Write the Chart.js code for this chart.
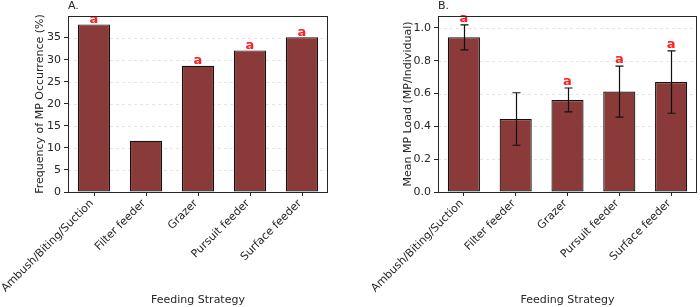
<!DOCTYPE html>
<html><head><meta charset="utf-8">
<script src="https://cdn.jsdelivr.net/npm/chart.js@4/dist/chart.umd.min.js"></script>
<style>
html,body{margin:0;padding:0;background:#fff;}
#wrap{position:relative;width:700px;height:307px;}
.cv{position:absolute;top:0;width:350px;height:307px;}
</style></head>
<body>
<div id="wrap">
<div class="cv" style="left:0"><canvas id="cA" width="350" height="307"></canvas></div>
<div class="cv" style="left:350px"><canvas id="cB" width="350" height="307"></canvas></div>
</div>
<script>
// ---- data ----
const categories = ['Ambush/Biting/Suction','Filter feeder','Grazer','Pursuit feeder','Surface feeder'];
const freqValues = [38.0, 11.6, 28.6, 32.1, 35.1];
const loadValues = [0.943, 0.445, 0.561, 0.612, 0.670];
const loadErrors = [0.076, 0.160, 0.073, 0.156, 0.190];
const freqLetters = ['a', '', 'a', 'a', 'a'];
const loadLetters = ['a', '', 'a', 'a', 'a'];
const freqTicks = [0, 5, 10, 15, 20, 25, 30, 35];
const loadTicks = [0.0, 0.2, 0.4, 0.6, 0.8, 1.0];
const freqMax = 39.9;
const loadMax = 1.073;

const FONT = 'DejaVu Sans';
const BAR = '#8b3a3a';
const DARK = '#262626';

function makeChart(id, opts) {
  const plugin = {
    id: 'deco' + id,
    beforeDatasetsDraw(chart) {
      const {ctx, chartArea: a} = chart;
      const y = chart.scales.y;
      ctx.save();
      ctx.strokeStyle = 'rgba(0,0,0,0.10)';
      ctx.lineWidth = 1;
      ctx.setLineDash([3, 3]);
      opts.ticks.forEach(v => {
        const py = Math.round(y.getPixelForValue(v)) + 0.5;
        ctx.beginPath(); ctx.moveTo(a.left, py); ctx.lineTo(a.right, py); ctx.stroke();
      });
      ctx.restore();
    },
    afterDatasetsDraw(chart) {
      const {ctx, chartArea: a} = chart;
      const x = chart.scales.x, y = chart.scales.y;
      ctx.save();
      // error bars
      if (opts.errors) {
        ctx.strokeStyle = '#111';
        ctx.lineWidth = 1.2;
        opts.values.forEach((v, i) => {
          const px = Math.round(x.getPixelForValue(i)) + 0.5;
          const yt = y.getPixelForValue(v + opts.errors[i]);
          const yb = y.getPixelForValue(v - opts.errors[i]);
          ctx.beginPath();
          ctx.moveTo(px, yt); ctx.lineTo(px, yb);
          ctx.moveTo(px - 4, yt); ctx.lineTo(px + 4, yt);
          ctx.moveTo(px - 4, yb); ctx.lineTo(px + 4, yb);
          ctx.stroke();
        });
      }
      // letters
      ctx.fillStyle = '#ff2020';
      ctx.font = 'bold 13px "' + FONT + '"';
      ctx.textAlign = 'center';
      ctx.textBaseline = 'alphabetic';
      opts.values.forEach((v, i) => {
        if (!opts.letters[i]) return;
        const top = v + (opts.errors ? opts.errors[i] : 0);
        const px = x.getPixelForValue(i);
        ctx.fillText(opts.letters[i], px, y.getPixelForValue(top) - (opts.errors ? 3 : 1.5));
      });
      // frame
      ctx.strokeStyle = DARK;
      ctx.lineWidth = 1;
      ctx.setLineDash([]);
      ctx.strokeRect(Math.round(a.left) + 0.5, Math.round(a.top) + 0.5,
                     Math.round(a.right - a.left) - 1, Math.round(a.bottom - a.top));
      // panel title
      ctx.fillStyle = DARK;
      ctx.font = '11px "' + FONT + '"';
      ctx.textAlign = 'left';
      ctx.textBaseline = 'middle';
      ctx.fillText(opts.panel, a.left, 6.5);
      ctx.restore();
    }
  };
  return new Chart(document.getElementById(id), {
    type: 'bar',
    data: {
      labels: categories,
      datasets: [{
        data: opts.values,
        backgroundColor: BAR,
        borderColor: '#111',
        borderWidth: 1.2,
        borderSkipped: false,
        barPercentage: 0.62,
        categoryPercentage: 1.0
      }]
    },
    options: {
      responsive: false,
      animation: false,
      devicePixelRatio: 1,
      layout: {padding: {left: 0, right: opts.padRight, top: 16, bottom: 0}},
      plugins: {legend: {display: false}, tooltip: {enabled: false}},
      scales: {
        x: {
          grid: {offset: false, drawOnChartArea: false, drawTicks: true, tickLength: 4, color: DARK},
          border: {display: false},
          ticks: {color: DARK, font: {family: FONT, size: 11}, minRotation: 45, maxRotation: 45, autoSkip: false, padding: 1, labelOffset: -2},
          title: {display: true, text: 'Feeding Strategy', color: DARK, font: {family: FONT, size: 11}, padding: {top: 0, bottom: 0}},
          afterFit(s) { s.height = 115; s.paddingLeft = 0; s.paddingRight = 0; }
        },
        y: {
          min: 0, max: opts.max,
          grid: {drawOnChartArea: false, drawTicks: true, tickLength: 4, color: DARK},
          border: {display: false},
          ticks: {color: DARK, font: {family: FONT, size: 11}, padding: 3,
                  callback: (v) => opts.fmt(v)},
          afterBuildTicks(s) { s.ticks = opts.ticks.map(v => ({value: v})); },
          title: {display: true, text: opts.ytitle, color: DARK, font: {family: FONT, size: 11}, padding: {top: opts.titlePad, bottom: 0}},
          afterFit(s) { s.width = opts.axisW; s.paddingTop = 0; s.paddingBottom = 0; }
        }
      }
    },
    plugins: [plugin]
  });
}

makeChart('cA', {
  values: freqValues, errors: null, letters: freqLetters, ticks: freqTicks, max: freqMax,
  ytitle: 'Frequency of MP Occurrence (%)', panel: 'A.', axisW: 68, padRight: 22, titlePad: 34,
  fmt: v => String(v)
});
makeChart('cB', {
  values: loadValues, errors: loadErrors, letters: loadLetters, ticks: loadTicks, max: loadMax,
  ytitle: 'Mean MP Load (MP/Individual)', panel: 'B.', axisW: 88, padRight: 3, titlePad: 52,
  fmt: v => v.toFixed(1)
});
</script>
</body></html>
